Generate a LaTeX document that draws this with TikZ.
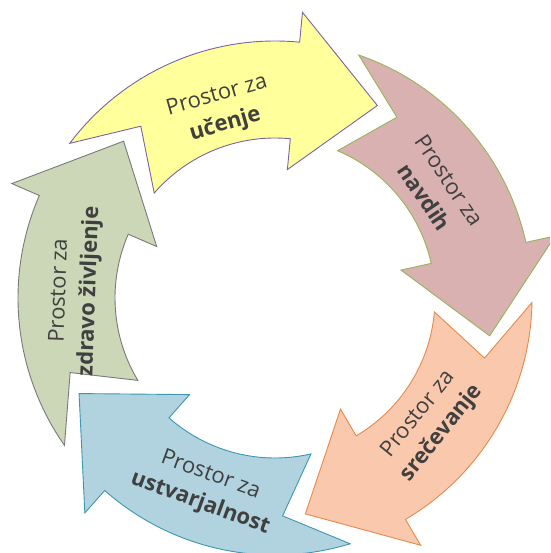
\documentclass[tikz,border=0pt]{standalone}
\usepackage{fontspec}
\setmainfont{Open Sans}
\usepackage{tikz}

\definecolor{yelfill}{HTML}{FFFF9B}
\definecolor{yelline}{HTML}{7B62A0}
\definecolor{pinkfill}{HTML}{DAB1B1}
\definecolor{pinkline}{HTML}{97B45A}
\definecolor{peachfill}{HTML}{FAC9AD}
\definecolor{peachline}{HTML}{E6894A}
\definecolor{bluefill}{HTML}{B0D3DF}
\definecolor{blueline}{HTML}{3E97B0}
\definecolor{greenfill}{HTML}{CBD7B6}
\definecolor{greenline}{HTML}{7A7A7A}
\definecolor{txtgray}{HTML}{404040}

\begin{document}
\begin{tikzpicture}[x=1pt,y=1pt]

\useasboundingbox (-275,-255) rectangle (275,298);
\clip (-275,-255) rectangle (275,298);

\tikzstyle{arr}=[line width=0.9pt,line join=miter]
\tikzstyle{lbl}=[align=center,text=txtgray,font=\fontsize{22}{30}\selectfont]

% yellow
\draw[arr,fill=yelfill,draw=yelline] (143:257) arc[start angle=143, end angle=84.5, radius=257]
  -- (84.5:287) -- (62:218) -- (84.5:129) -- (84.5:160)
  arc[start angle=84.5, end angle=139, radius=160] -- (128:218) -- cycle;
% pink
\draw[arr,fill=pinkfill,draw=pinkline] (71:257) arc[start angle=71, end angle=12.5, radius=257]
  -- (12.5:287) -- (-10:218) -- (12.5:129) -- (12.5:160)
  arc[start angle=12.5, end angle=67, radius=160] -- (56:218) -- cycle;
% peach
\draw[arr,fill=peachfill,draw=peachline] (-1:257) arc[start angle=-1, end angle=-59.5, radius=257]
  -- (-59.5:287) -- (-82:218) -- (-59.5:129) -- (-59.5:160)
  arc[start angle=-59.5, end angle=-5, radius=160] -- (-16:218) -- cycle;
% blue
\draw[arr,fill=bluefill,draw=blueline] (-73:257) arc[start angle=-73, end angle=-131.5, radius=257]
  -- (-131.5:287) -- (-154:218) -- (-131.5:129) -- (-131.5:160)
  arc[start angle=-131.5, end angle=-77, radius=160] -- (-88:218) -- cycle;
% green
\draw[arr,fill=greenfill,draw=greenline] (-145:257) arc[start angle=-145, end angle=-203.5, radius=257]
  -- (-203.5:287) -- (-226:218) -- (-203.5:129) -- (-203.5:160)
  arc[start angle=-203.5, end angle=-149, radius=160] -- (-160:218) -- cycle;

\node (ucenje) at (106:195) [lbl,rotate=16] {Prostor za\\\textbf{učenje}};
\node (navdih) at (34:195) [lbl,rotate=-56] {Prostor za\\\textbf{navdih}};
\node (srecevanje) at (-39:200) [lbl,rotate=51] {Prostor za\\\textbf{srečevanje}};
\node (ustvarjalnost) at (-110:204) [lbl,rotate=-20] {Prostor za\\\textbf{ustvarjalnost}};
\node (zdravo) at (178:200) [lbl,rotate=88] {Prostor za\\\textbf{zdravo življenje}};

\end{tikzpicture}
\end{document}
